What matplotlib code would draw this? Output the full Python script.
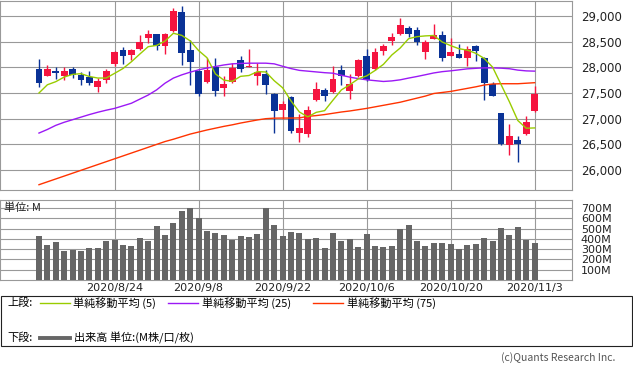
import matplotlib
matplotlib.use('Agg')
import matplotlib.pyplot as plt
from matplotlib.lines import Line2D
from matplotlib.patches import Rectangle
from matplotlib.ticker import FuncFormatter

# fuentes: japonés primero, DejaVu para lo que falte
JP = ['Noto Sans CJK JP', 'DejaVu Sans']

# =============================================
# DATOS
# =============================================

date_labels = ['2020/8/24', '2020/9/8', '2020/9/22', '2020/10/6', '2020/10/20', '2020/11/3']
date_pos = [9, 19, 29, 39, 49, 59]

opens = [27970, 27840, 27931, 27840, 27963, 27853, 27814, 27607, 27743, 28073,
         28339, 28248, 28358, 28579, 28650, 28423, 28708, 29078, 28339, 27931,
         27704, 28015, 27600, 27704, 28145, 28002, 27821, 27872, 27484, 27160,
         27419, 26713, 26700, 27354, 27561, 27510, 27950, 27529, 27821, 28222,
         27957, 28320, 28514, 28650, 28767, 28728, 28307, 28559, 28631, 28229,
         28261, 28190, 28417, 28190, 27678, 27114, 26479, 26589, 26693, 27140]
highs = [28164, 28047, 27996, 27996, 28002, 27905, 27931, 27782, 27970, 28320,
         28397, 28365, 28631, 28728, 28655, 28660, 29156, 29194, 28527, 27940,
         28184, 28184, 27834, 28080, 28222, 28358, 28080, 27950, 27490, 27348,
         27451, 27095, 27250, 27717, 27600, 28028, 28047, 27872, 28164, 28358,
         28378, 28456, 28670, 28961, 28806, 28786, 28533, 28845, 28708, 28572,
         28456, 28417, 28443, 28209, 27717, 27120, 26900, 26654, 27056, 27639]
lows = [27607, 27835, 27775, 27743, 27801, 27659, 27646, 27510, 27685, 28034,
        28073, 28145, 28339, 28482, 28339, 28268, 28695, 28047, 27646, 27445,
        27700, 27432, 27432, 27700, 27918, 27998, 27646, 27477, 26713, 26998,
        26719, 26538, 26641, 27350, 27335, 27505, 27659, 27374, 27815, 27730,
        27950, 28242, 28430, 28631, 28598, 28436, 28164, 28555, 28132, 28225,
        28185, 28034, 28132, 27354, 27445, 26492, 26285, 26149, 26690, 27135]
closes = [27685, 27963, 27885, 27931, 27847, 27756, 27685, 27736, 27931, 28300,
          28229, 28339, 28488, 28650, 28423, 28650, 29097, 28287, 28112, 27484,
          27950, 27529, 27678, 27989, 27976, 28028, 27905, 27646, 27140, 27289,
          26751, 26823, 27173, 27581, 27451, 27775, 27821, 27678, 28145, 27743,
          28300, 28417, 28592, 28825, 28650, 28495, 28495, 28631, 28190, 28300,
          28190, 28358, 28320, 27691, 27451, 26512, 26667, 26499, 26939, 27484]

# medias móviles simples (5, 25, 75)
ma5 = [27500, 27660, 27720, 27810, 27862, 27876, 27821, 27791, 27791, 27882,
       27976, 28107, 28257, 28401, 28426, 28510, 28662, 28621, 28514, 28326,
       28186, 27872, 27751, 27726, 27824, 27840, 27915, 27909, 27739, 27602,
       27346, 27130, 27035, 27123, 27156, 27361, 27560, 27661, 27774, 27832,
       27937, 28057, 28239, 28375, 28557, 28596, 28611, 28619, 28492, 28422,
       28361, 28334, 28272, 28172, 28002, 27666, 27328, 26964, 26814, 26820]
ma25 = [26720, 26790, 26870, 26930, 26980, 27030, 27080, 27125, 27165, 27200,
        27250, 27300, 27380, 27460, 27560, 27690, 27790, 27853, 27905, 27950,
        27985, 28015, 28045, 28067, 28075, 28080, 28080, 28080, 28067, 28020,
        27975, 27940, 27925, 27910, 27895, 27885, 27845, 27808, 27780, 27756,
        27740, 27724, 27735, 27756, 27790, 27821, 27855, 27890, 27915, 27931,
        27950, 27970, 27980, 27989, 27988, 27983, 27972, 27945, 27930, 27925]
ma75 = [25715, 25771, 25827, 25883, 25939, 25995, 26051, 26107, 26163, 26219,
        26275, 26331, 26387, 26443, 26499, 26555, 26600, 26650, 26700, 26740,
        26780, 26815, 26850, 26880, 26915, 26945, 26975, 27000, 27010, 27012,
        27012, 27015, 27045, 27060, 27080, 27105, 27130, 27150, 27175, 27200,
        27230, 27260, 27290, 27320, 27360, 27400, 27440, 27490, 27510, 27530,
        27560, 27590, 27620, 27655, 27675, 27680, 27680, 27680, 27690, 27700]

# volumen (millones)
volume = [430, 340, 370, 285, 295, 285, 310, 310, 380, 390,
          340, 333, 410, 380, 530, 440, 560, 675, 705, 600,
          480, 460, 440, 390, 430, 420, 450, 705, 540, 430,
          470, 460, 400, 410, 315, 460, 380, 400, 325, 450,
          335, 325, 335, 500, 540, 380, 335, 360, 360, 350,
          305, 340, 350, 410, 380, 510, 440, 520, 390, 360]

price_ticks = [26000, 26500, 27000, 27500, 28000, 28500, 29000]
vol_ticks = [100, 200, 300, 400, 500, 600, 700]

RED = '#f5143f'
BLUE = '#0a3296'
GRID = '#999999'

W, H = 633, 372


def rect_px(l, t, r, b):
    # rectángulo en píxeles -> coordenadas de figura
    return [l / W, 1 - b / H, (r - l) / W, (b - t) / H]


def fx(x):
    return x / W


def fy(y):
    return 1 - y / H


fig = plt.figure(figsize=(W / 100, H / 100), dpi=100)

# =============================================
# PANEL SUPERIOR: velas + medias
# =============================================
ax = fig.add_axes(rect_px(0, 1, 572, 190))
xs = list(range(len(closes)))

for i in xs:
    c = RED if closes[i] >= opens[i] else BLUE
    ax.vlines(i, lows[i], highs[i], color=c, lw=1.0, zorder=2)
    body = closes[i] - opens[i]
    if abs(body) < 15:
        body = 15 if body >= 0 else -15
    ax.bar(i, body, bottom=opens[i], width=0.82, color=c, lw=0, zorder=3)

ax.plot(xs, ma75, color='#ff3300', lw=1.0, zorder=4)
ax.plot(xs, ma25, color='#9b19f5', lw=1.0, zorder=4)
ax.plot(xs, ma5, color='#99cc00', lw=1.0, zorder=4)

ax.set_xlim(-4.64, 63.45)
ax.set_ylim(25612, 29290)
ax.set_yticks(price_ticks)
ax.yaxis.set_major_formatter(FuncFormatter(lambda v, p: f'{v:,.0f}'))
ax.yaxis.tick_right()
ax.set_xticks(date_pos)
ax.tick_params(axis='x', length=0, labelbottom=False)
ax.tick_params(axis='y', length=0, pad=6.3, labelsize=8.5, labelcolor='#222222')
ax.grid(True, color=GRID, lw=0.8)
ax.set_axisbelow(True)
for s in ax.spines.values():
    s.set_color(GRID)
    s.set_linewidth(0.8)

# =============================================
# PANEL INFERIOR: volumen
# =============================================
axv = fig.add_axes(rect_px(0, 200, 572, 280))
axv.bar(xs, volume, width=0.72, color='#666666', lw=0, zorder=3)
axv.set_xlim(-4.64, 63.45)
axv.set_ylim(0, 780)
axv.set_yticks(vol_ticks)
axv.set_yticklabels([f'{v}M' for v in vol_ticks])
axv.yaxis.tick_right()
axv.set_xticks(date_pos)
axv.set_xticklabels(date_labels)
axv.tick_params(axis='x', length=0, pad=2.5, labelsize=8, labelcolor='#222222')
axv.tick_params(axis='y', length=0, pad=6.3, labelsize=8, labelcolor='#222222')
axv.grid(True, color=GRID, lw=0.8)
axv.set_axisbelow(True)
for s in axv.spines.values():
    s.set_color(GRID)
    s.set_linewidth(0.8)
axv.text(4 / 572, 1 - 7.5 / 80, '単位: M', transform=axv.transAxes, ha='left', va='center',
         fontsize=8, family=JP, color='#222222', zorder=5)

# =============================================
# LEYENDA
# =============================================
fig.add_artist(Rectangle((fx(0.7), fy(346)), fx(631.5) - fx(0.7), fy(296) - fy(346),
                         transform=fig.transFigure, fill=False, ec='#222222', lw=0.8))

ROW1, ROW2 = 303, 338
fig.text(fx(7), fy(ROW1), '上段:', ha='left', va='center', fontsize=8, family=JP)
fig.text(fx(7), fy(ROW2), '下段:', ha='left', va='center', fontsize=8, family=JP)

items = [(40, 70, 73, '#99cc00', '単純移動平均 (5)'),
         (168, 198, 202, '#9b19f5', '単純移動平均 (25)'),
         (313, 343, 347, '#ff3300', '単純移動平均 (75)')]
for x1, x2, xt, col, lab in items:
    fig.add_artist(Line2D([fx(x1), fx(x2)], [fy(ROW1), fy(ROW1)], transform=fig.transFigure,
                          color=col, lw=1.0))
    fig.text(fx(xt), fy(ROW1), lab, ha='left', va='center', fontsize=8, family=JP)

fig.add_artist(Line2D([fx(40), fx(70)], [fy(ROW2), fy(ROW2)], transform=fig.transFigure,
                      color='#666666', lw=2.8))
fig.text(fx(74), fy(ROW2), '出来高 単位:(M株/口/枚)', ha='left', va='center', fontsize=8, family=JP)

fig.text(fx(615), fy(358), '(c)Quants Research Inc.', ha='right', va='center',
         fontsize=7.5, family=JP, color='#555555')

fig.savefig('out.png', dpi=100)
